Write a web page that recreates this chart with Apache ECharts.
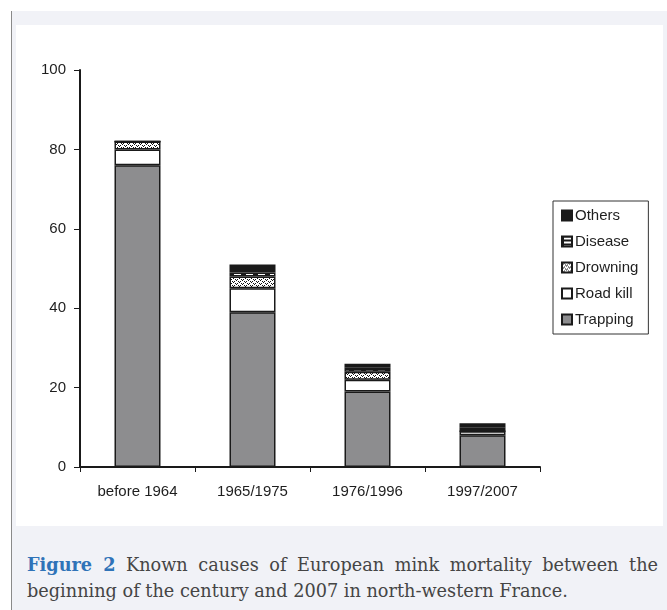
<!DOCTYPE html>
<html>
<head>
<meta charset="utf-8">
<script src="https://cdn.jsdelivr.net/npm/echarts@6/dist/echarts.min.js"></script>
<style>
  html, body { margin: 0; padding: 0; background: #fff; }
  .panel {
    position: absolute; left: 11px; top: 11px; width: 656px; height: 599px;
    background: #f1f2f7; border-left: 1px solid #8a8a8a;
  }
  .minkChart {
    position: absolute; left: 16px; top: 25px; width: 647px; height: 501px;
    background: #fff;
  }
  .caption {
    position: absolute; left: 27px; top: 552px; width: 631px;
    font-family: 'DejaVu Serif', serif; font-size: 17.7px; line-height: 26px;
    color: #454545; text-align: justify; text-align-last: left;
  }
  .caption b { color: #2f73b8; }
</style>
</head>
<body>
<div class="panel"></div>
<div class="minkChart"></div>
<div class="caption"><b>Figure 2</b> Known causes of European mink mortality between the beginning of the century and 2007 in north-western France.</div>
<script>
const categories = ['before 1964', '1965/1975', '1976/1996', '1997/2007'];
const trapping = [76, 39, 19, 8];
const roadKill = [4, 6, 3, 1];
const drowning = [2, 3, 2, 0];
const disease = [0, 1, 1, 1];
const others = [0, 2, 1, 1];
const legendNames = ['Others', 'Disease', 'Drowning', 'Road kill', 'Trapping'];

// little tiles for the hatched fills
const makeTile = (w, h, draw) => {
  const c = document.createElement('canvas');
  c.width = w;
  c.height = h;
  draw(c.getContext('2d'));
  return { image: c, repeat: 'repeat' };
};

const dotted = makeTile(6, 4, (ctx) => {
  ctx.fillStyle = '#fff';
  ctx.fillRect(0, 0, 6, 4);
  ctx.fillStyle = '#111';
  ctx.fillRect(0, 0, 1, 1);
  ctx.fillRect(2, 0, 1, 1);
  ctx.fillRect(1, 1, 1, 1);
  ctx.fillRect(3, 2, 1, 1);
  ctx.fillRect(5, 2, 1, 1);
  ctx.fillRect(4, 3, 1, 1);
});

const dashed = makeTile(12, 4, (ctx) => {
  ctx.fillStyle = '#1a1a1a';
  ctx.fillRect(0, 0, 12, 4);
  ctx.fillStyle = '#fff';
  ctx.fillRect(2, 1, 7, 2);
});

const textColor = '#1e1e1e';
const border = { borderColor: '#1a1a1a', borderWidth: 1.5 };

const bar = (name, data, color) => ({
  name: name,
  type: 'bar',
  stack: 'Total',
  barWidth: 46,
  data: data,
  itemStyle: Object.assign({ color: color }, border),
});

const myChart = echarts.init(document.querySelector('.minkChart'));

const option = {
  animation: false,
  textStyle: { fontFamily: 'Liberation Sans, Arial, sans-serif' },
  grid: { left: 64, right: 123, top: 45, bottom: 59 },
  legend: {
    data: legendNames,
    icon: 'rect',
    orient: 'vertical',
    left: 537,
    top: 176,
    itemWidth: 10,
    itemHeight: 10,
    itemGap: 11,
    padding: [7, 10, 7, 8],
    borderColor: '#333',
    borderWidth: 1,
    textStyle: { color: textColor, fontSize: 15, padding: [0, 0, 0, -2] },
  },
  xAxis: {
    type: 'category',
    data: categories,
    axisLine: { lineStyle: { color: '#1a1a1a', width: 2 } },
    axisTick: { show: true, length: 5, lineStyle: { color: '#1a1a1a' } },
    axisLabel: { color: textColor, fontSize: 15, margin: 17 },
  },
  yAxis: {
    type: 'value',
    min: 0,
    max: 100,
    interval: 20,
    splitLine: { show: false },
    axisLine: { show: true, lineStyle: { color: '#1a1a1a', width: 2 } },
    axisTick: { show: true, length: 6, lineStyle: { color: '#1a1a1a' } },
    axisLabel: { color: textColor, fontSize: 15, margin: 14 },
  },
  series: [
    bar('Trapping', trapping, '#8d8d8f'),
    bar('Road kill', roadKill, '#fff'),
    bar('Drowning', drowning, dotted),
    bar('Disease', disease, dashed),
    bar('Others', others, '#1a1a1a'),
  ],
};

myChart.setOption(option);
</script>
</body>
</html>
